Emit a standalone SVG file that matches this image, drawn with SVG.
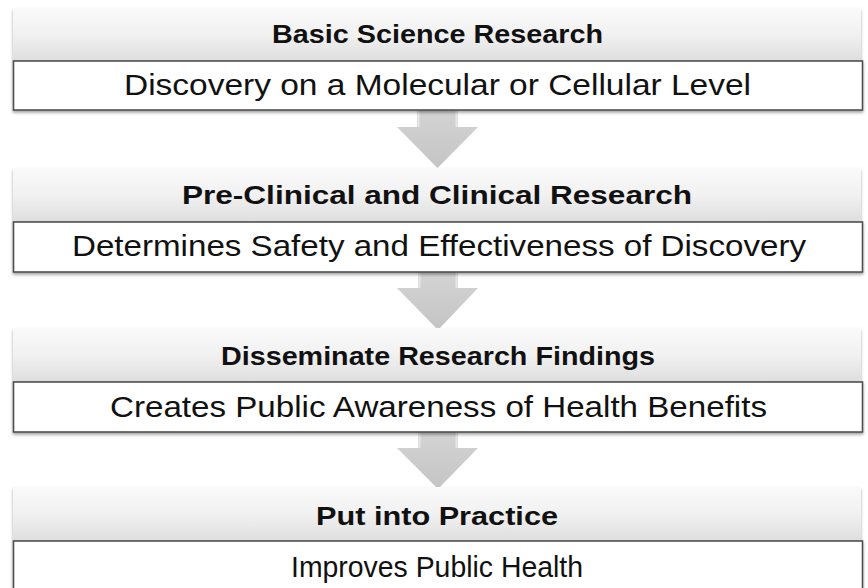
<svg xmlns="http://www.w3.org/2000/svg" width="868" height="588" viewBox="0 0 868 588">
<defs>
<linearGradient id="hdr" x1="0" y1="0" x2="0" y2="1">
<stop offset="0" stop-color="#fafafa"/>
<stop offset="0.5" stop-color="#f1f1f1"/>
<stop offset="1" stop-color="#dedede"/>
</linearGradient>
<linearGradient id="arr" x1="0" y1="0" x2="0" y2="1">
<stop offset="0" stop-color="#d4d4d4"/>
<stop offset="1" stop-color="#c4c4c4"/>
</linearGradient>
<filter id="sh" x="-5%" y="-20%" width="110%" height="150%">
<feGaussianBlur in="SourceAlpha" stdDeviation="1.5"/>
<feOffset dx="0" dy="2" result="b"/>
<feComponentTransfer><feFuncA type="linear" slope="0.35"/></feComponentTransfer>
<feMerge><feMergeNode/><feMergeNode in="SourceGraphic"/></feMerge>
</filter>
</defs>
<style>
.hdr{fill:url(#hdr);}
.body{fill:#ffffff;stroke:#505050;stroke-width:1.6;}
.ht{font-family:"Liberation Sans",Arial,sans-serif;font-weight:bold;font-size:25px;fill:#111;text-anchor:middle;}
.bt{font-family:"Liberation Sans",Arial,sans-serif;font-size:30px;fill:#111;text-anchor:middle;}
.arrow{fill:url(#arr);}
.hl{stroke:#e8e8e8;stroke-width:2;}
</style>
<rect width="868" height="588" fill="#ffffff"/>
<g id="connectors">
<path class="arrow" d="M417,110 H458 V127 H478 L437.5,168 L397,127 H417 Z"/>
<line class="hl" x1="418.5" y1="110" x2="418.5" y2="127"/><line class="hl" x1="456.5" y1="110" x2="456.5" y2="127"/>
<path class="arrow" d="M418,272 H458 V288 H478 L438,330 L397,288 H418 Z"/>
<line class="hl" x1="419.5" y1="272" x2="419.5" y2="288"/><line class="hl" x1="456.5" y1="272" x2="456.5" y2="288"/>
<path class="arrow" d="M418,432 H458 V448 H478 L438,489 L397,448 H418 Z"/>
<line class="hl" x1="419.5" y1="432" x2="419.5" y2="448"/><line class="hl" x1="456.5" y1="432" x2="456.5" y2="448"/>
</g>
<g id="node1">
<rect class="hdr" x="13" y="8" width="848" height="53" filter="url(#sh)"/>
<rect class="body" x="13.5" y="61" width="849" height="49" filter="url(#sh)"/>
<text class="ht" x="437.5" y="43" textLength="331" lengthAdjust="spacingAndGlyphs">Basic Science Research</text>
<text class="bt" x="437.5" y="95" textLength="627" lengthAdjust="spacingAndGlyphs">Discovery on a Molecular or Cellular Level</text>
</g>
<g id="node2">
<rect class="hdr" x="13" y="168" width="848" height="54" filter="url(#sh)"/>
<rect class="body" x="13.5" y="222" width="849" height="50" filter="url(#sh)"/>
<text class="ht" x="437" y="204" textLength="510" lengthAdjust="spacingAndGlyphs">Pre-Clinical and Clinical Research</text>
<text class="bt" x="439" y="256" textLength="734" lengthAdjust="spacingAndGlyphs">Determines Safety and Effectiveness of Discovery</text>
</g>
<g id="node3">
<rect class="hdr" x="13" y="328" width="848" height="54" filter="url(#sh)"/>
<rect class="body" x="13.5" y="382" width="849" height="50" filter="url(#sh)"/>
<text class="ht" x="438" y="365" textLength="434" lengthAdjust="spacingAndGlyphs">Disseminate Research Findings</text>
<text class="bt" x="438.5" y="417" textLength="657" lengthAdjust="spacingAndGlyphs">Creates Public Awareness of Health Benefits</text>
</g>
<g id="node4">
<rect class="hdr" x="13" y="487" width="848" height="54" filter="url(#sh)"/>
<rect class="body" x="13.5" y="541" width="849" height="52" filter="url(#sh)"/>
<text class="ht" x="437" y="525" textLength="242" lengthAdjust="spacingAndGlyphs">Put into Practice</text>
<text class="bt" x="437" y="577" textLength="292" lengthAdjust="spacingAndGlyphs">Improves Public Health</text>
</g>
</svg>
